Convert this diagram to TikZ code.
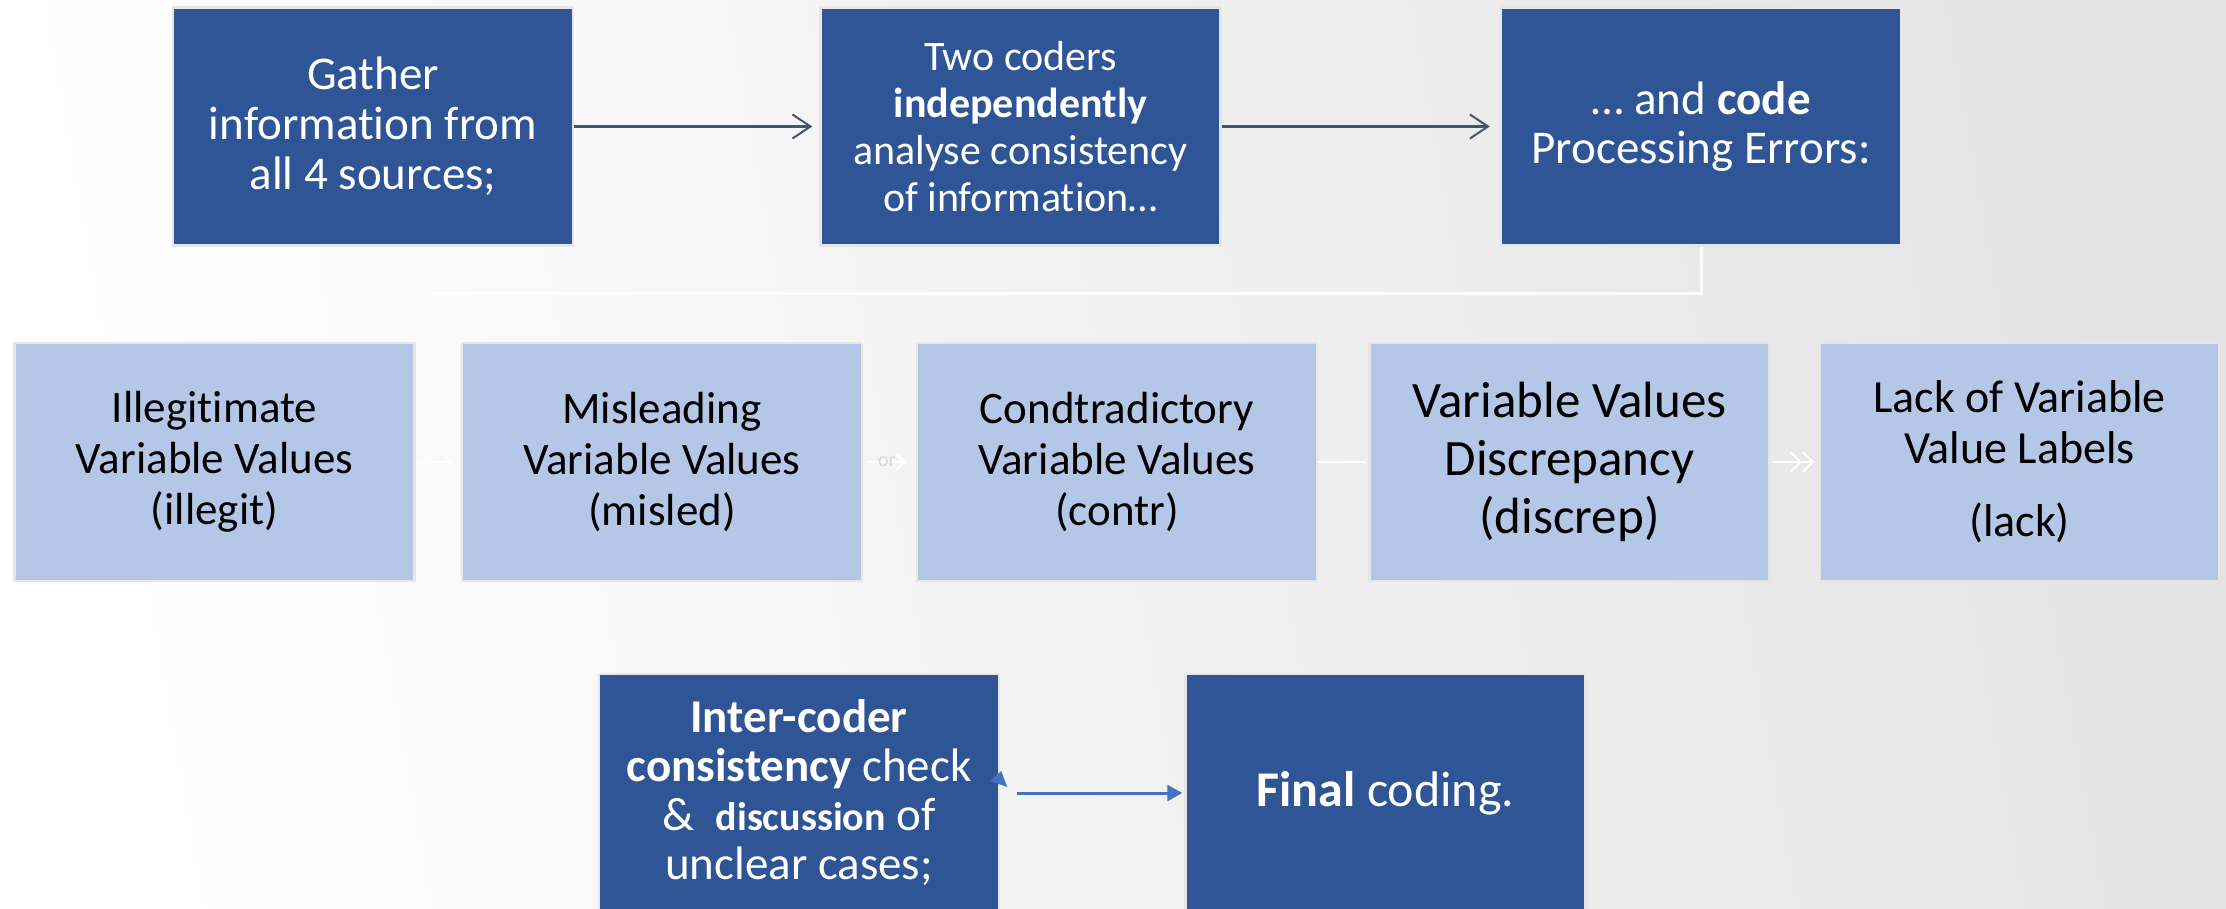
\documentclass[tikz,border=0pt]{standalone}
\usepackage{fontspec}
\setmainfont[Ligatures=NoCommon]{Carlito}
\usetikzlibrary{arrows.meta,calc}
\definecolor{darkblue}{HTML}{2F5597}
\definecolor{lightblue}{HTML}{B4C7E7}
\definecolor{arrowgray}{HTML}{44546A}
\definecolor{arrowblue}{HTML}{4472C4}
\definecolor{bgright}{HTML}{E4E4E4}
\definecolor{edgegray}{HTML}{E6E6E6}
\definecolor{orgray}{HTML}{D6D6D6}
\begin{document}
\begin{tikzpicture}[x=1pt,y=-1pt,
  darkbox/.style={rectangle, fill=darkblue, draw=edgegray, line width=2.5pt, text=white,
    minimum width=400pt, minimum height=238pt, align=center, inner sep=0pt},
  lightbox/.style={rectangle, fill=lightblue, draw=edgegray, line width=2.5pt, text=black,
    minimum width=400pt, minimum height=238pt, align=center, inner sep=0pt},
  toparrow/.style={draw=arrowgray, line width=2.5pt, -{Straight Barb[length=18pt,width=24pt,line width=2pt]}},
  whitearrow/.style={draw=white, line width=2pt},
  bluearrow/.style={draw=arrowblue, line width=3pt, -{Triangle[length=15pt,width=16pt]}},
]
\useasboundingbox (0,0) rectangle (2226,908);
\clip (0,0) rectangle (2226,908);
\shade[left color=white, right color=bgright, shading angle=100] (0,0) rectangle (2226,908);

% top row
\node[darkbox, font={\fontsize{47}{50}\selectfont}] (b1) at (373,126.5)
  {Gather\\information from\\all 4 sources;};
\node[darkbox, font={\fontsize{42}{47}\selectfont}] (b2) at (1020.5,126.5)
  {Two coders\\\textbf{independently}\\analyse consistency\\of information…};
\node[darkbox, font={\fontsize{47}{49}\selectfont}] (b3) at (1701,126.5)
  {… and \textbf{code}\\Processing Errors:};

\draw[toparrow, shorten >=7pt] (b1) -- (b2);
\draw[toparrow, shorten >=10pt] (b2) -- (b3);

\coordinate (lend) at (430,293);
\draw[draw=white, line width=3pt] (b3.south) |- (lend);

% middle row
\node[lightbox, font={\fontsize{45}{51}\selectfont}] (a) at (214.5,462)
  {Illegitimate\\Variable Values\\(illegit)};
\node[lightbox, font={\fontsize{45}{51}\selectfont}] (b) at (662,462)
  {Misleading\\Variable Values\\(misled)};
\node[lightbox, font={\fontsize{45}{51}\selectfont}] (c) at (1117,462)
  {Condtradictory\\Variable Values\\(contr)};
\node[lightbox, font={\fontsize{51}{58}\selectfont}] (d) at (1569.5,462)
  {Variable Values\\Discrepancy\\(discrep)};
\node[lightbox, font={\fontsize{46}{51}\selectfont}] (e) at (2019.5,462)
  {Lack of Variable\\Value Labels\\[22pt](lack)};

\draw[whitearrow, -{Straight Barb[length=8pt,width=16pt]}, shorten <=2pt, shorten >=8pt] (a) -- (b);
\draw[whitearrow, -{Straight Barb[length=8pt,width=16pt]}, shorten <=6pt, shorten >=10pt] (b) --
  node[pos=0.45, text=orgray, font={\fontsize{20}{20}\selectfont}, inner sep=0pt] (ortext) {or} (c);
\draw[whitearrow, shorten >=2pt] (c) -- (d);
\draw[whitearrow, -{Straight Barb[length=10pt,width=20pt] Straight Barb[length=10pt,width=20pt]}, shorten <=2pt, shorten >=4pt] (d) -- (e);

% bottom row
\node[darkbox, font={\fontsize{47}{49}\selectfont}] (f) at (799,793)
  {\textbf{Inter-coder}\\\textbf{consistency} check\\\&\ \ {\fontsize{40}{49}\selectfont\textbf{discussion}} of\\unclear cases;};
\node[darkbox, font={\fontsize{50}{55}\selectfont}] (g) at (1385.5,793)
  {\textbf{Final} coding.};

\draw[bluearrow, shorten <=17pt, shorten >=2pt] (f) -- (g);
\fill[arrowblue] ($(f.east)+(-10,-12)$) -- ($(f.east)+(1,-22)$) -- ($(f.east)+(7,-6)$) -- cycle;
\end{tikzpicture}
\end{document}
